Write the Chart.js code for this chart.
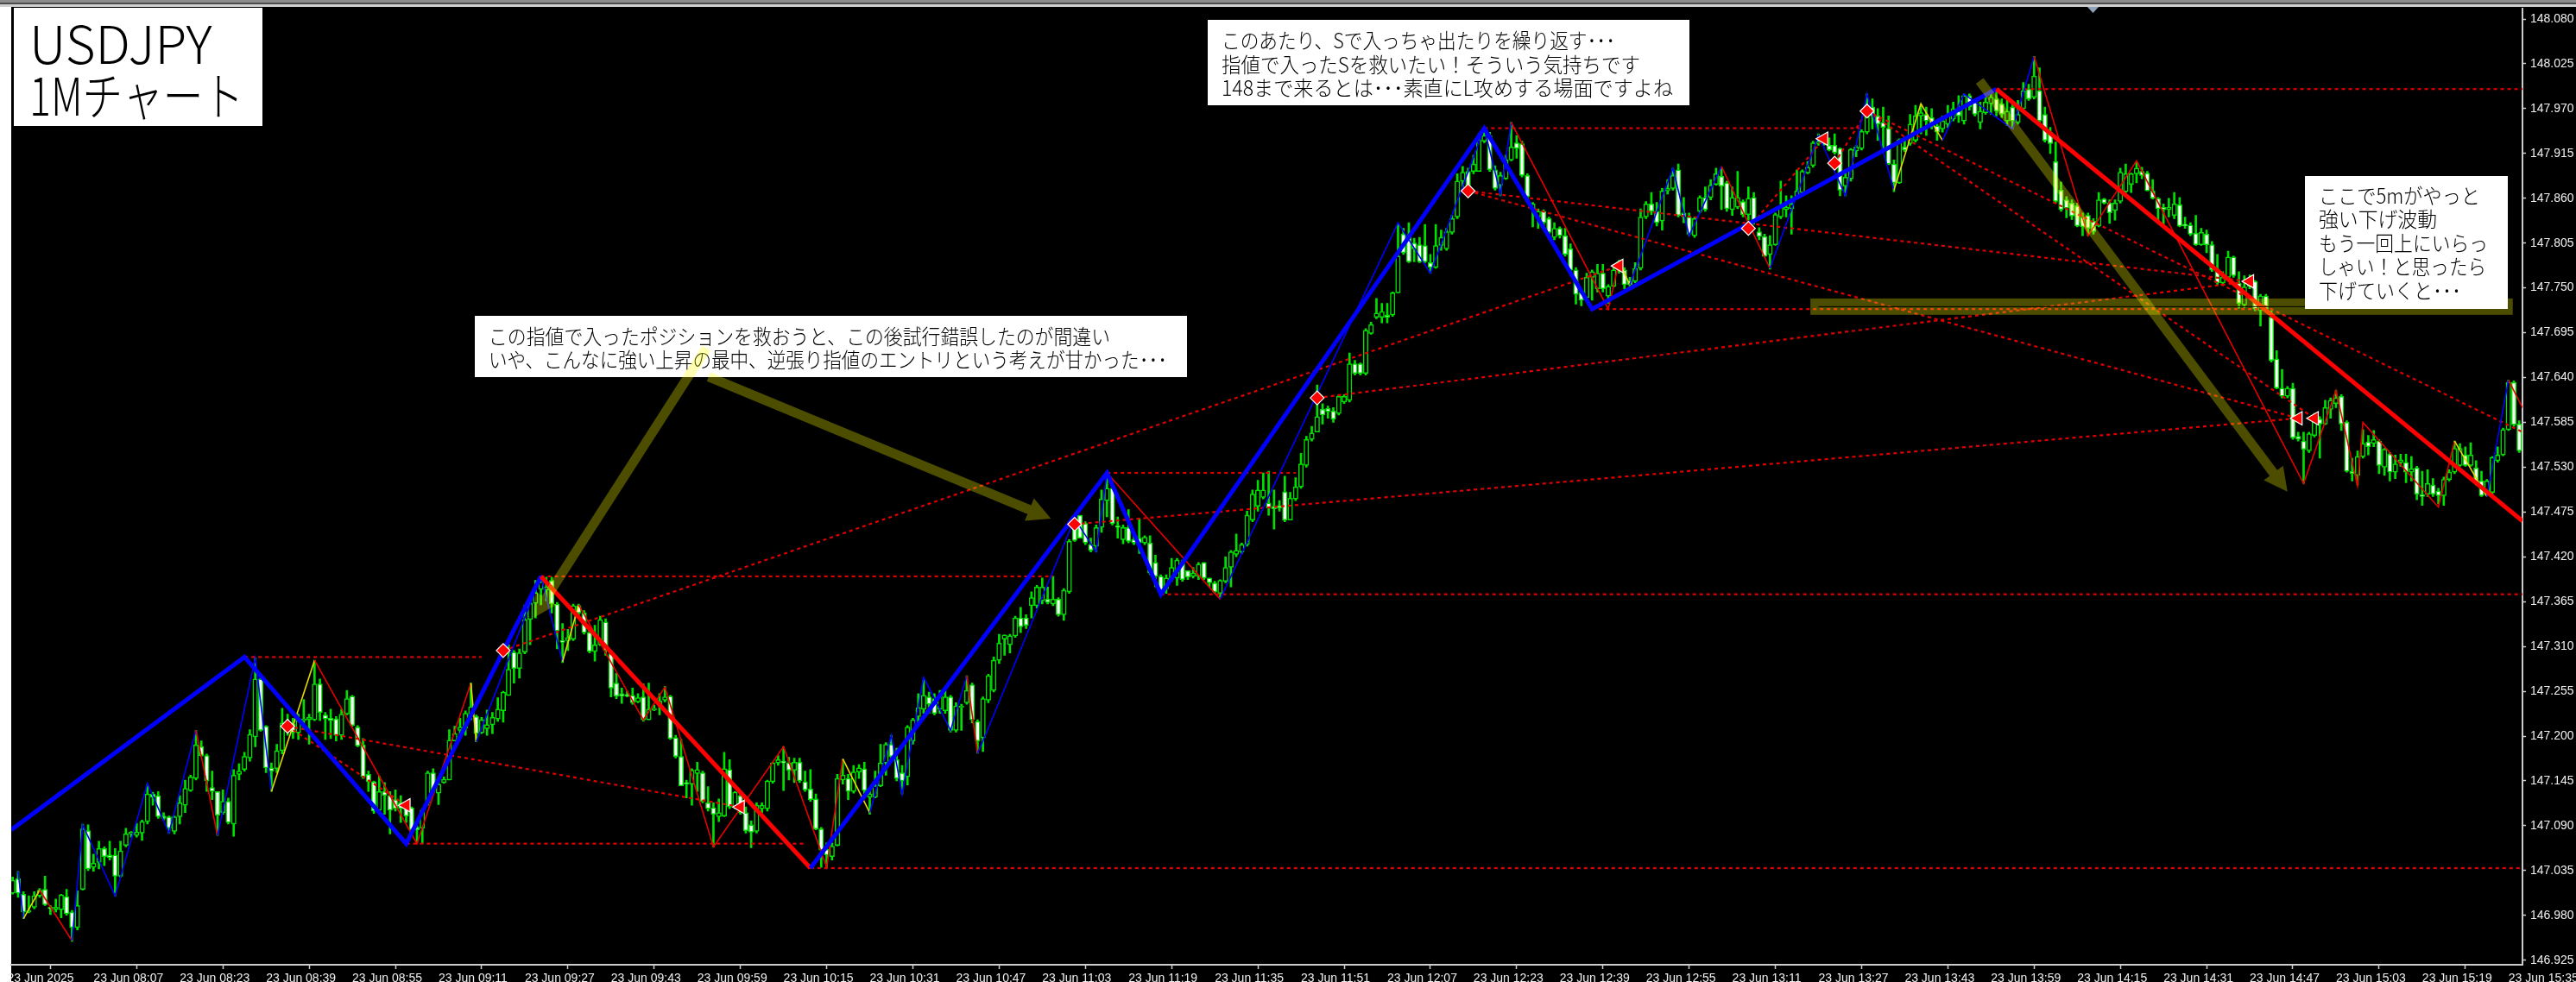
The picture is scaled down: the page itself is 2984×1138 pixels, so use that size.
<!DOCTYPE html>
<html lang="ja">
<head>
<meta charset="utf-8">
<title>USDJPY 1M</title>
<script src="https://cdn.jsdelivr.net/npm/chart.js@4/dist/chart.umd.min.js"></script>
<style>
html, body { margin: 0; padding: 0; background: #fff; overflow: hidden; }
canvas { display: block; }
</style>
</head>
<body>
<canvas id="grafico" width="2984" height="1138"></canvas>
<script>
// Candles, one per minute from 07:52
const opens = [
147.007,147.025,147.006,146.984,146.990,147.004,147.012,146.990,146.987,146.987,
147.003,146.984,146.965,147.012,147.084,147.039,147.045,147.062,147.054,147.054,
147.028,147.066,147.080,147.078,147.081,147.095,147.129,147.127,147.102,147.101,
147.083,147.101,147.115,147.133,147.148,147.187,147.176,147.137,147.132,147.106,
147.120,147.092,147.153,147.159,147.173,147.199,147.270,147.212,147.161,147.160,
147.182,147.216,147.215,147.204,147.219,147.220,147.220,147.264,147.226,147.222,
147.221,147.201,147.227,147.249,147.211,147.189,147.153,147.144,147.109,147.132,
147.127,147.122,147.118,147.113,147.112,147.088,147.087,147.118,147.155,147.130,
147.143,147.146,147.194,
147.207,147.210,147.224,147.224,147.204,147.209,147.214,147.221,147.231,147.250,
147.303,147.283,147.303,147.343,147.363,147.380,147.379,147.391,147.362,147.317,
147.317,147.319,147.360,147.351,147.327,147.304,147.312,147.340,147.301,147.265,
147.252,147.251,147.250,147.242,147.248,147.220,147.232,147.238,147.244,147.249,
147.198,147.175,147.143,147.141,147.154,147.155,147.118,147.112,147.101,147.102,
147.159,147.113,147.127,147.106,147.091,147.083,147.111,147.111,147.144,147.167,
147.169,147.167,147.158,147.168,147.144,147.135,147.123,147.086,147.061,147.052,
147.066,147.146,147.148,147.132,147.156,147.160,147.125,147.125,147.139,147.167,
147.190,147.171,147.155,
147.150,147.194,147.224,147.233,147.248,147.246,147.233,147.231,147.248,147.207,
147.235,147.241,147.263,147.218,147.198,147.244,147.256,147.293,147.319,147.312,
147.323,147.345,147.345,147.360,147.360,147.366,147.368,147.362,147.368,147.349,
147.377,147.462,147.471,147.461,147.435,147.433,147.456,147.489,147.504,147.458,
147.441,147.456,147.441,147.443,147.437,147.437,147.413,147.396,147.381,147.394,
147.394,147.413,147.403,147.396,147.396,147.413,147.394,147.388,147.375,147.390,
147.407,147.423,147.426,147.435,147.465,147.482,147.493,147.486,147.482,147.483,
147.500,147.465,147.491,147.506,147.532,147.564,
147.573,147.601,147.602,147.599,147.596,147.610,147.612,147.657,147.657,147.645,
147.694,147.714,147.714,147.717,147.717,147.744,147.816,147.814,147.805,147.803,
147.802,147.781,147.775,147.802,147.798,147.818,147.837,147.881,147.893,147.893,
147.893,147.930,147.937,147.895,147.876,147.884,147.907,147.928,147.927,147.888,
147.846,147.837,147.844,147.835,147.812,147.823,147.814,147.798,147.772,147.744,
147.738,147.763,147.749,147.768,147.740,147.752,147.782,147.772,147.759,147.758,
147.774,147.837,147.853,147.844,147.832,147.869,147.872,147.895,147.842,147.837,
147.814,147.844,147.861,147.861,147.877,147.887,
147.879,147.846,147.849,147.856,147.840,147.861,147.819,147.813,147.791,147.803,
147.837,147.846,147.847,147.861,147.867,147.891,147.900,147.927,147.934,147.925,
147.925,147.921,147.875,147.884,147.918,147.921,147.941,
147.972,147.961,147.953,147.946,147.902,147.879,147.923,147.927,147.931,147.961,
147.963,147.959,147.949,147.945,147.951,147.957,147.967,147.955,147.986,147.978,
147.953,147.965,147.976,147.982,147.976,147.955,147.972,147.953,147.970,147.994,
147.984,147.992,147.963,147.941,147.905,147.870,147.858,147.854,
147.851,147.837,147.839,147.832,147.826,147.859,147.854,147.845,147.856,147.868,
147.877,147.890,147.893,147.891,147.869,147.860,147.849,147.846,147.839,147.852,
147.828,147.827,147.817,147.803,147.816,147.803,147.773,147.756,147.763,147.788,
147.756,147.729,147.752,147.758,147.722,147.740,147.714,147.663,147.627,147.617,
147.627,147.568,147.562,147.550,147.569,147.589,147.583,147.601,147.608,147.617,
147.585,147.525,147.520,147.543,147.561,147.559,147.562,147.530,147.546,147.524,
147.536,147.536,147.524,147.529,147.495,147.497,147.508,147.501,147.495,147.515,
147.524,147.532,147.545,147.532,147.529,147.513,147.497,147.499,147.538,147.545,
147.576,147.634,147.583];
const highs = [
147.027,147.034,147.009,147.004,147.009,147.013,147.028,146.992,147.000,147.006,
147.012,146.986,147.010,147.092,147.091,147.055,147.071,147.064,147.071,147.062,
147.071,147.087,147.083,147.093,147.097,147.141,147.131,147.132,147.106,147.102,
147.102,147.127,147.146,147.152,147.207,147.194,147.178,147.157,147.132,147.134,
147.124,147.159,147.166,147.180,147.208,147.296,147.271,147.213,147.167,147.190,
147.234,147.227,147.222,147.227,147.245,147.227,147.293,147.270,147.229,147.233,
147.224,147.233,147.256,147.250,147.213,147.197,147.157,147.145,147.151,147.143,
147.132,147.134,147.127,147.118,147.113,147.090,147.111,147.157,147.160,147.143,
147.150,147.208,147.212,
147.222,147.231,147.265,147.226,147.223,147.232,147.229,147.247,147.255,147.312,
147.305,147.307,147.361,147.368,147.391,147.396,147.395,147.395,147.364,147.338,
147.331,147.362,147.362,147.354,147.329,147.336,147.347,147.344,147.303,147.277,
147.259,147.255,147.259,147.252,147.264,147.265,147.238,147.252,147.261,147.250,
147.201,147.196,147.146,147.160,147.168,147.157,147.138,147.118,147.123,147.180,
147.171,147.132,147.132,147.113,147.096,147.118,147.118,147.146,147.168,147.176,
147.187,147.174,147.173,147.173,147.157,147.159,147.129,147.088,147.069,147.069,
147.153,147.171,147.153,147.164,147.165,147.168,147.132,147.157,147.190,147.192,
147.201,147.185,147.164,
147.213,147.222,147.252,147.269,147.254,147.252,147.256,147.256,147.250,147.241,
147.239,147.274,147.265,147.220,147.248,147.276,147.297,147.325,147.324,147.325,
147.347,147.358,147.349,147.377,147.385,147.394,147.383,147.396,147.370,147.381,
147.441,147.467,147.471,147.463,147.443,147.459,147.502,147.519,147.508,147.469,
147.459,147.478,147.446,147.467,147.446,147.446,147.422,147.398,147.398,147.418,
147.418,147.416,147.403,147.407,147.413,147.413,147.394,147.390,147.392,147.420,
147.428,147.448,147.437,147.476,147.502,147.514,147.523,147.525,147.502,147.489,
147.519,147.499,147.517,147.547,147.568,147.580,
147.631,147.608,147.605,147.603,147.619,147.619,147.670,147.661,147.658,147.700,
147.708,147.737,147.731,147.731,147.745,147.828,147.823,147.830,147.811,147.812,
147.828,147.791,147.828,147.821,147.823,147.839,147.890,147.899,147.897,147.913,
147.939,147.942,147.941,147.900,147.892,147.913,147.953,147.937,147.930,147.890,
147.855,147.847,147.846,147.837,147.830,147.825,147.823,147.804,147.775,147.745,
147.768,147.772,147.779,147.779,147.754,147.775,147.784,147.775,147.763,147.781,
147.847,147.856,147.867,147.855,147.872,147.883,147.897,147.902,147.861,147.842,
147.837,147.863,147.874,147.883,147.897,147.897,
147.881,147.874,147.893,147.858,147.874,147.867,147.824,147.816,147.814,147.842,
147.881,147.863,147.863,147.895,147.895,147.905,147.930,147.939,147.935,147.934,
147.939,147.922,147.891,147.921,147.925,147.944,147.988,
147.982,147.970,147.972,147.961,147.907,147.933,147.935,147.963,147.974,147.975,
147.972,147.970,147.951,147.961,147.974,147.978,147.986,147.988,147.988,147.980,
147.978,147.984,147.992,147.992,147.982,147.980,147.976,147.980,148.002,148.000,
148.034,148.020,147.972,147.947,147.929,147.880,147.862,147.858,
147.854,147.842,147.842,147.835,147.867,147.860,147.858,147.858,147.897,147.902,
147.891,147.905,147.898,147.893,147.883,147.861,147.853,147.860,147.867,147.861,
147.837,147.830,147.839,147.823,147.821,147.807,147.791,147.770,147.795,147.789,
147.770,147.765,147.766,147.759,147.742,147.742,147.722,147.673,147.650,147.629,
147.633,147.573,147.573,147.573,147.596,147.592,147.612,147.615,147.624,147.619,
147.587,147.541,147.550,147.576,147.569,147.575,147.564,147.553,147.548,147.545,
147.546,147.546,147.543,147.531,147.525,147.527,147.516,147.504,147.518,147.527,
147.562,147.559,147.555,147.560,147.538,147.525,147.515,147.543,147.555,147.578,
147.637,147.636,147.587];
const lows = [
147.006,147.002,146.976,146.983,146.988,147.002,146.992,146.981,146.984,146.977,
146.980,146.948,146.962,147.011,147.035,147.034,147.037,147.041,147.048,147.004,
147.027,147.064,147.076,147.076,147.072,147.092,147.115,147.099,147.097,147.081,
147.080,147.092,147.106,147.132,147.146,147.175,147.132,147.122,147.078,147.104,
147.092,147.077,147.146,147.157,147.169,147.187,147.206,147.155,147.132,147.155,
147.178,147.201,147.197,147.196,147.208,147.190,147.219,147.219,147.196,147.197,
147.194,147.196,147.226,147.212,147.187,147.148,147.132,147.105,147.108,147.104,
147.080,147.108,147.094,147.094,147.083,147.069,147.068,147.115,147.131,147.116,
147.142,147.146,147.194,
147.201,147.201,147.220,147.193,147.203,147.201,147.203,147.218,147.217,147.250,
147.265,147.271,147.301,147.312,147.345,147.361,147.366,147.351,147.307,147.290,
147.305,147.317,147.349,147.325,147.302,147.292,147.311,147.299,147.248,147.246,
147.240,147.248,147.239,147.241,147.218,147.220,147.231,147.226,147.242,147.196,
147.173,147.139,147.124,147.115,147.132,147.118,147.108,147.064,147.095,147.101,
147.111,147.111,147.104,147.081,147.063,147.081,147.106,147.108,147.142,147.164,
147.133,147.146,147.143,147.143,147.132,147.120,147.085,147.039,147.039,147.048,
147.065,147.141,147.122,147.130,147.148,147.129,147.104,147.124,147.138,147.152,
147.171,147.145,147.129,
147.140,147.190,147.216,147.228,147.228,147.226,147.228,147.228,147.205,147.205,
147.207,147.239,147.216,147.179,147.181,147.241,147.254,147.289,147.299,147.302,
147.321,147.327,147.332,147.345,147.357,147.362,147.362,147.360,147.347,147.342,
147.375,147.439,147.443,147.435,147.426,147.426,147.450,147.469,147.459,147.443,
147.436,147.437,147.435,147.424,147.435,147.398,147.383,147.373,147.375,147.390,
147.385,147.390,147.392,147.394,147.392,147.392,147.383,147.375,147.370,147.388,
147.383,147.420,147.424,147.433,147.463,147.476,147.491,147.471,147.454,147.476,
147.463,147.465,147.489,147.504,147.530,147.562,
147.573,147.583,147.590,147.585,147.594,147.608,147.610,147.643,147.643,147.643,
147.693,147.712,147.707,147.707,147.715,147.744,147.791,147.781,147.782,147.781,
147.781,147.768,147.774,147.796,147.796,147.816,147.835,147.874,147.870,147.890,
147.893,147.928,147.893,147.870,147.863,147.883,147.906,147.909,147.886,147.860,
147.825,147.823,147.826,147.816,147.809,147.811,147.789,147.770,147.730,147.728,
147.737,147.735,147.745,147.745,147.731,147.751,147.768,147.749,147.752,147.756,
147.772,147.835,147.840,147.826,147.821,147.865,147.870,147.837,147.830,147.814,
147.812,147.842,147.844,147.858,147.876,147.846,
147.844,147.839,147.847,147.837,147.833,147.828,147.809,147.788,147.773,147.802,
147.835,147.837,147.816,147.860,147.865,147.890,147.898,147.925,147.925,147.918,
147.914,147.863,147.863,147.881,147.911,147.919,147.939,
147.945,147.931,147.919,147.901,147.868,147.878,147.917,147.925,147.929,147.939,
147.937,147.945,147.931,147.941,147.947,147.955,147.953,147.951,147.968,147.961,
147.945,147.963,147.963,147.961,147.959,147.949,147.945,147.951,147.968,147.980,
147.982,147.953,147.929,147.915,147.854,147.844,147.836,147.834,
147.825,147.814,147.814,147.816,147.825,147.853,147.829,147.833,147.854,147.867,
147.867,147.879,147.884,147.869,147.859,147.832,147.828,147.837,147.835,147.825,
147.823,147.814,147.802,147.802,147.793,147.770,147.754,147.753,147.761,147.763,
147.725,147.726,147.749,147.722,147.703,147.721,147.659,147.626,147.615,147.615,
147.564,147.562,147.510,147.548,147.567,147.541,147.582,147.590,147.603,147.575,
147.524,147.513,147.508,147.541,147.545,147.555,147.522,147.520,147.513,147.516,
147.531,147.511,147.513,147.490,147.483,147.494,147.494,147.485,147.483,147.513,
147.522,147.531,147.531,147.531,147.508,147.494,147.495,147.497,147.536,147.544,
147.575,147.580,147.548];
const closes = [
147.023,147.007,146.984,146.986,147.004,147.011,146.993,146.988,146.990,147.005,
146.982,146.965,146.992,147.086,147.037,147.044,147.062,147.052,147.051,147.028,
147.059,147.080,147.081,147.082,147.095,147.129,147.125,147.101,147.099,147.087,
147.101,147.118,147.136,147.150,147.189,147.176,147.145,147.132,147.103,147.120,
147.094,147.152,147.157,147.175,147.202,147.270,147.207,147.161,147.157,147.182,
147.216,147.206,147.204,147.219,147.220,147.223,147.264,147.229,147.221,147.219,
147.201,147.227,147.246,147.213,147.188,147.150,147.144,147.108,147.132,147.127,
147.109,147.111,147.111,147.102,147.085,147.085,147.109,147.155,147.134,147.141,
147.147,147.195,147.203,
147.211,147.228,147.236,147.203,147.220,147.214,147.223,147.233,147.254,147.282,
147.283,147.302,147.343,147.363,147.376,147.389,147.383,147.362,147.329,147.315,
147.321,147.360,147.351,147.327,147.304,147.312,147.343,147.305,147.259,147.249,
147.249,147.249,147.241,147.247,147.220,147.233,147.234,147.243,147.248,147.197,
147.175,147.139,147.141,147.158,147.159,147.120,147.111,147.104,147.106,147.160,
147.113,147.131,147.106,147.084,147.082,147.115,147.115,147.145,147.167,147.171,
147.167,147.158,147.168,147.145,147.134,147.122,147.086,147.060,147.054,147.065,
147.148,147.152,147.132,147.156,147.161,147.133,147.129,147.139,147.167,147.190,
147.175,147.148,147.145,
147.211,147.220,147.235,147.250,147.239,147.228,147.250,147.248,147.207,147.237,
147.237,147.256,147.220,147.194,147.246,147.274,147.293,147.314,147.324,147.323,
147.345,147.334,147.336,147.370,147.383,147.383,147.364,147.368,147.349,147.379,
147.439,147.440,147.443,147.437,147.428,147.456,147.491,147.504,147.461,147.456,
147.456,147.439,147.437,147.437,147.444,147.400,147.396,147.379,147.394,147.407,
147.416,147.392,147.395,147.400,147.411,147.394,147.388,147.377,147.391,147.407,
147.426,147.428,147.435,147.471,147.497,147.502,147.502,147.480,147.479,147.480,
147.465,147.492,147.506,147.534,147.564,147.572,
147.592,147.594,147.598,147.589,147.617,147.617,147.657,147.645,147.645,147.698,
147.705,147.719,147.721,147.714,147.744,147.789,147.793,147.782,147.798,147.782,
147.782,147.775,147.802,147.812,147.819,147.835,147.881,147.892,147.872,147.902,
147.932,147.937,147.895,147.872,147.888,147.907,147.923,147.921,147.888,147.862,
147.853,147.844,147.830,147.818,147.823,147.814,147.791,147.772,147.742,147.735,
147.763,147.770,147.768,147.749,147.752,147.772,147.772,147.754,147.754,147.774,
147.837,147.853,147.844,147.830,147.869,147.872,147.888,147.839,147.837,147.816,
147.835,147.861,147.846,147.876,147.890,147.875,
147.847,147.861,147.861,147.840,147.860,147.831,147.813,147.789,147.803,147.840,
147.849,147.849,147.853,147.869,147.893,147.898,147.928,147.930,147.930,147.919,
147.916,147.870,147.886,147.920,147.923,147.942,147.960,
147.961,147.951,147.947,147.902,147.879,147.932,147.919,147.951,147.961,147.965,
147.955,147.949,147.941,147.955,147.961,147.970,147.961,147.986,147.972,147.963,
147.967,147.978,147.984,147.967,147.963,147.967,147.955,147.963,147.992,147.982,
148.010,147.955,147.931,147.927,147.856,147.846,147.848,147.838,
147.826,147.825,147.823,147.819,147.858,147.854,147.842,147.854,147.892,147.890,
147.890,147.897,147.888,147.869,147.860,147.847,147.846,147.849,147.853,147.826,
147.826,147.816,147.803,147.818,147.803,147.772,147.756,147.763,147.788,147.765,
147.731,147.751,147.759,147.724,147.740,147.722,147.661,147.627,147.617,147.627,
147.566,147.564,147.552,147.571,147.590,147.583,147.603,147.612,147.615,147.583,
147.525,147.522,147.543,147.559,147.555,147.564,147.532,147.552,147.524,147.534,
147.539,147.524,147.528,147.497,147.494,147.510,147.497,147.495,147.515,147.524,
147.553,147.553,147.532,147.545,147.511,147.495,147.513,147.542,147.545,147.576,
147.634,147.582,147.550];

// Axis ticks
const timeTickIdx = [-1,15,31,47,63,79,95,111,127,143,159,175,191,207,223,239,255,271,287,303,319,335,351,367,383,399,415,431,447,463];
const timeTickLabels = ["23 Jun 2025","23 Jun 08:07","23 Jun 08:23","23 Jun 08:39","23 Jun 08:55","23 Jun 09:11","23 Jun 09:27","23 Jun 09:43","23 Jun 09:59","23 Jun 10:15","23 Jun 10:31","23 Jun 10:47","23 Jun 11:03","23 Jun 11:19","23 Jun 11:35","23 Jun 11:51","23 Jun 12:07","23 Jun 12:23","23 Jun 12:39","23 Jun 12:55","23 Jun 13:11","23 Jun 13:27","23 Jun 13:43","23 Jun 13:59","23 Jun 14:15","23 Jun 14:31","23 Jun 14:47","23 Jun 15:03","23 Jun 15:19","23 Jun 15:35"];
const priceTicks = [146.925,146.98,147.035,147.09,147.145,147.2,147.255,147.31,147.365,147.42,147.475,147.53,147.585,147.64,147.695,147.75,147.805,147.86,147.915,147.97,148.025,148.08];

// Big zigzag
const mainIdx = [-0.27,43,73,98,148,203,213,273,293,368,465.6];
const mainPrice = [147.085,147.297,147.068,147.396,147.038,147.523,147.374,147.946,147.724,147.994,147.464];
const mainColor = ["#0000ff","#0000ff","#0000ff","#ff0000","#0000ff","#0000ff","#0000ff","#0000ff","#0000ff","#ff0000"];

// Small zigzag
const thinIdx = [1,2,5,11,13,19,25,29,34,38,45,48,56,75,85,86,98,102,105,117,121,130,143,151,154,159,163,165,169,174,177,179,180,197,201,203,224,257,263,273,276,278,296,298,300,308,311,317,326,335,340,344,349,354,358,362,371,375,385,394,425,431,435,436,450,453,459,463,465.6];
const thinPrice = [147.034,146.976,147.011,146.949,147.091,147.004,147.142,147.081,147.207,147.078,147.296,147.132,147.293,147.068,147.265,147.193,147.396,147.291,147.361,147.220,147.260,147.064,147.187,147.039,147.172,147.106,147.201,147.129,147.272,147.207,147.274,147.179,147.194,147.467,147.426,147.523,147.368,147.830,147.768,147.946,147.865,147.953,147.724,147.782,147.754,147.897,147.814,147.899,147.774,147.937,147.863,147.988,147.870,147.976,147.931,147.988,147.945,148.034,147.814,147.906,147.510,147.624,147.507,147.585,147.481,147.562,147.494,147.637,147.603];
const B = "#0000ff", R = "#e60000", Y = "#e8d800";
const thinColor = [B,Y,R,B,B,B,B,B,R,B,B,Y,R,R,Y,B,B,Y,R,R,R,R,R,R,Y,B,B,B,B,B,R,B,B,B,B,R,B,B,B,B,B,R,R,Y,B,B,B,R,B,B,B,B,Y,Y,B,B,B,R,R,R,R,R,R,R,R,Y,B,R];

// Horizontal dotted levels
const levelPrice = [147.297,147.068,147.396,147.038,147.523,147.374,147.946,147.724,147.994];
const levelFrom = [43,73,98,148,203,213,273,293,368];
const levelTo = [87,147,193,465.6,238,465.6,343,417.5,465.6];

// Sloped dotted lines
const slopeFromIdx = [51,51,91,197,242,270,270,344,344,322,338];
const slopeFromPrice = [147.212,147.212,147.305,147.460,147.615,147.869,147.869,147.967,147.967,147.823,147.903];
const slopeToIdx = [135,73,298,424,415,415,424,427,465.6,336,344];
const slopeToPrice = [147.113,147.115,147.777,147.590,147.758,147.758,147.590,147.590,147.573,147.933,147.967];

// Position marks
const diamondIdx = [51,91,197,242,270,322,338,344];
const diamondPrice = [147.212,147.305,147.460,147.615,147.869,147.823,147.903,147.967];
const triangleIdx = [73,135,298,336,415,424,427];
const trianglePrice = [147.115,147.113,147.777,147.933,147.758,147.590,147.590];

// Drawn arrows and zone
const arrowFromIdx = [128.7,129.1,364.9];
const arrowFromPrice = [147.676,147.641,148.004];
const arrowToIdx = [96.6,192.6,422];
const arrowToPrice = [147.345,147.467,147.500];
const zoneIdx = [333.5,463.8];
const zonePrice = [147.717,147.737];
const zoneLineIdx = [335,426];
const zoneLinePrice = 147.727;

// Notes
const titleLines = ["USDJPY","1Mチャート"];
const noteA = ["この指値で入ったポジションを救おうと、この後試行錯誤したのが間違い","いや、こんなに強い上昇の最中、逆張り指値のエントリという考えが甘かった･･･"];
const noteB = ["このあたり、Sで入っちゃ出たりを繰り返す･･･","指値で入ったSを救いたい！そういう気持ちです","148まで来るとは･･･素直にL攻めする場面ですよね"];
const noteC = ["ここで5mがやっと","強い下げ波動","もう一回上にいらっ","しゃい！と思ったら","下げていくと･･･"];

const VERDE = "#00e000";
const OLIVA = "rgba(255,255,0,0.3)";
const ROJO_PUNTOS = "#e00000";

function pares(xs, ys) { return xs.map((x, i) => ({ x: x, y: ys[i] })); }

function dotted(a, b) {
    return { type: "line", data: [a, b], borderColor: ROJO_PUNTOS, borderWidth: 2.2, borderDash: [4, 4], pointRadius: 0, order: 4 };
}

const velas = opens.map((o, i) => i);

const datasets = [
    { type: "bar", data: velas.map(i => ({ x: i, y: [lows[i], highs[i]] })), backgroundColor: VERDE, barThickness: 2, grouped: false, order: 6 },
    { type: "bar", data: velas.map(i => ({ x: i, y: [opens[i], closes[i]] })),
      backgroundColor: velas.map(i => closes[i] < opens[i] ? "#ffffff" : "#000000"),
      borderColor: VERDE, borderWidth: 1.5, borderSkipped: false, barThickness: 5.5, minBarLength: 2, grouped: false, order: 5 },
];
levelPrice.forEach((p, i) => datasets.push(dotted({ x: levelFrom[i], y: p }, { x: levelTo[i], y: p })));
slopeFromIdx.forEach((x, i) => datasets.push(dotted({ x: x, y: slopeFromPrice[i] }, { x: slopeToIdx[i], y: slopeToPrice[i] })));
datasets.push({ type: "line", data: pares(thinIdx, thinPrice), borderWidth: 1.6, pointRadius: 0, order: 3, borderColor: B,
    segment: { borderColor: ctx => thinColor[ctx.p0DataIndex] } });
datasets.push({ type: "line", data: pares(mainIdx, mainPrice), borderWidth: 5, pointRadius: 0, order: 2, borderColor: "#0000ff",
    segment: { borderColor: ctx => mainColor[ctx.p0DataIndex] } });
datasets.push({ type: "scatter", data: pares(diamondIdx, diamondPrice), pointStyle: "rectRot", pointRadius: 8, pointBackgroundColor: "#ff0000", pointBorderColor: "#ffffff", pointBorderWidth: 1.2, order: 1 });
datasets.push({ type: "scatter", data: pares(triangleIdx, trianglePrice), pointStyle: "triangle", pointRotation: -90, pointRadius: 9, pointBackgroundColor: "#ff0000", pointBorderColor: "#ffffff", pointBorderWidth: 1.2, order: 1 });

// Fondo negro, tira gris arriba, margen blanco a la izquierda
const fondo = {
    id: "fondo",
    beforeDraw(chart) {
        const c = chart.ctx;
        c.save();
        c.fillStyle = "#000";
        c.fillRect(0, 0, 2984, 1138);
        c.fillStyle = "#fff";
        c.fillRect(0, 0, 13, 1138);
        c.fillStyle = "#8c8c8c";
        c.fillRect(0, 0, 2984, 3);
        c.fillStyle = "#4a4a4a";
        c.fillRect(0, 3, 2984, 2);
        c.fillStyle = "#cfcfcf";
        c.fillRect(0, 5, 2984, 3);
        c.fillStyle = "#8fa3b8";
        c.beginPath();
        c.moveTo(2418, 8); c.lineTo(2431, 8); c.lineTo(2424.5, 15); c.closePath();
        c.fill();
        c.restore();
    }
};

function caja(c, x, y, w, h, lineas, font, tx, ty, paso, anchos) {
    c.fillStyle = "#fff";
    c.fillRect(x, y, w, h);
    c.fillStyle = "#000";
    c.font = font;
    c.textBaseline = "middle";
    c.textAlign = "left";
    lineas.forEach((t, i) => c.fillText(t, tx, ty + i * paso, anchos[i]));
}

function flecha(c, x0, y0, x1, y1) {
    const largo = Math.hypot(x1 - x0, y1 - y0);
    const ux = (x1 - x0) / largo, uy = (y1 - y0) / largo;
    const nx = -uy, ny = ux;
    const mx = x1 - ux * 27, my = y1 - uy * 27;
    c.fillStyle = OLIVA;
    c.beginPath();
    c.moveTo(x0 + nx * 5.5, y0 + ny * 5.5);
    c.lineTo(mx + nx * 5.5, my + ny * 5.5);
    c.lineTo(mx + nx * 14, my + ny * 14);
    c.lineTo(x1, y1);
    c.lineTo(mx - nx * 14, my - ny * 14);
    c.lineTo(mx - nx * 5.5, my - ny * 5.5);
    c.lineTo(x0 - nx * 5.5, y0 - ny * 5.5);
    c.closePath();
    c.fill();
}

// Zona, notas y flechas encima de las velas
const notas = {
    id: "notas",
    afterDatasetsDraw(chart) {
        const c = chart.ctx, sx = chart.scales.x, sy = chart.scales.y;
        c.save();
        const yz0 = sy.getPixelForValue(zonePrice[1]), yz1 = sy.getPixelForValue(zonePrice[0]);
        const xz0 = sx.getPixelForValue(zoneIdx[0]), xz1 = sx.getPixelForValue(zoneIdx[1]);
        c.fillStyle = OLIVA;
        c.fillRect(xz0, yz0, xz1 - xz0, yz1 - yz0);
        c.strokeStyle = "#000";
        c.lineWidth = 1;
        c.beginPath();
        c.moveTo(sx.getPixelForValue(zoneLineIdx[0]), sy.getPixelForValue(zoneLinePrice));
        c.lineTo(sx.getPixelForValue(zoneLineIdx[1]), sy.getPixelForValue(zoneLinePrice));
        c.stroke();

        const fuente = "'Noto Sans CJK JP', 'Noto Sans', sans-serif";
        caja(c, 16, 9, 288, 137, titleLines, "300 60px " + fuente, 34, 51, 60, [216, 248]);
        caja(c, 550, 366, 825, 71, noteA, "300 24px " + fuente, 566, 390, 27, [720, 786]);
        caja(c, 1399, 23, 558, 99, noteB, "300 24px " + fuente, 1415, 47, 27.5, [456, 485, 523]);
        caja(c, 2670, 204, 235, 154, noteC, "300 24px " + fuente, 2686, 226.5, 27.5, [187, 137, 196, 194, 165]);

        arrowFromIdx.forEach((x, i) => flecha(c,
            sx.getPixelForValue(x), sy.getPixelForValue(arrowFromPrice[i]),
            sx.getPixelForValue(arrowToIdx[i]), sy.getPixelForValue(arrowToPrice[i])));
        c.restore();
    }
};

new Chart(document.getElementById("grafico"), {
    type: "bar",
    data: { datasets: datasets },
    plugins: [fondo, notas],
    options: {
        responsive: false,
        animation: false,
        devicePixelRatio: 1,
        events: [],
        layout: { padding: { left: 13, top: 8, right: 0, bottom: 0 } },
        plugins: { legend: { display: false }, tooltip: { enabled: false }, title: { display: false } },
        scales: {
            x: {
                type: "linear",
                offset: false,
                min: -0.27,
                max: 465.6,
                afterBuildTicks: s => { s.ticks = timeTickIdx.map(v => ({ value: v })); },
                // no dejar que las etiquetas encojan el area del grafico
                afterFit: s => { s.height = 20; s.paddingLeft = 0; s.paddingRight = 0; },
                grid: { drawOnChartArea: false, tickLength: 5, tickWidth: 1.5, tickColor: ctx => ctx.index === 0 ? "rgba(0,0,0,0)" : "#cccccc" },
                border: { color: "#cccccc", width: 2 },
                ticks: {
                    autoSkip: false, maxRotation: 0, minRotation: 0, align: "start", padding: 3,
                    color: "#f0f0f0", font: { family: "'Liberation Sans'", size: 14 },
                    callback: v => timeTickLabels[timeTickIdx.indexOf(v)]
                }
            },
            y: {
                position: "right",
                min: 146.9194,
                max: 148.0925,
                afterBuildTicks: s => { s.ticks = priceTicks.map(v => ({ value: v })); },
                afterFit: s => { s.width = 62; s.paddingTop = 0; s.paddingBottom = 0; },
                grid: { drawOnChartArea: false, tickLength: 4, tickWidth: 1.5, tickColor: "#cccccc" },
                border: { color: "#cccccc", width: 2 },
                ticks: {
                    autoSkip: false, padding: 5,
                    color: "#f0f0f0", font: { family: "'Liberation Sans'", size: 14 },
                    callback: v => v.toFixed(3)
                }
            }
        }
    }
});
</script>
</body>
</html>
